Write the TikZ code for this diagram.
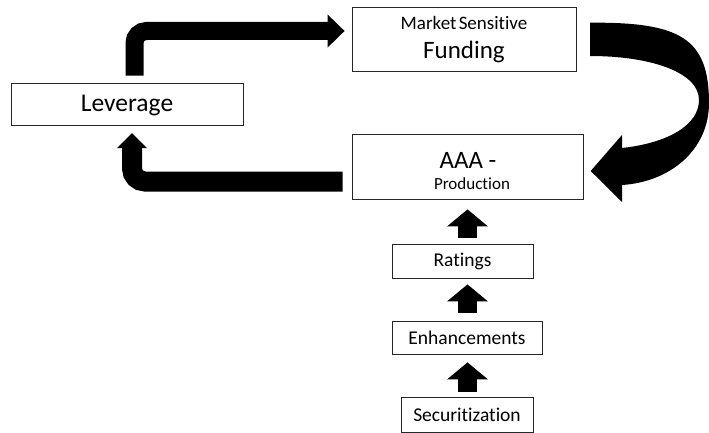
\documentclass[tikz,border=0pt]{standalone}
\usepackage{fontspec}
\setmainfont{Carlito}[Ligatures=NoCommon]
\usetikzlibrary{arrows.meta,calc}
\begin{document}
\begin{tikzpicture}[x=1pt,y=-1pt,
  box/.style={draw=black!85,line width=0.8pt,inner sep=0pt,fill=white},
  lbl/.style={inner sep=0pt,anchor=base},
  uparrow/.style={line width=19pt,-{Triangle[length=17pt 0 0,width=40pt 0 0]}},
  toparrow/.style={line width=18pt,rounded corners=12pt,-{Triangle[length=17pt 0 0,width=32pt 0 0]}},
  botarrow/.style={line width=20pt,rounded corners=13pt,-{Triangle[length=15pt 0 0,width=29pt 0 0]}}]
\useasboundingbox (0,0) rectangle (709,433);

\node[box,minimum width=232pt,minimum height=42.7pt] (lev) at (127,104.3) {};
\node[lbl,font=\fontsize{25.5}{28}\selectfont] (levt) at (127,112) {Leverage};
\node[box,minimum width=224pt,minimum height=64pt] (msf) at (464,39) {};
\node[lbl,font=\fontsize{19}{21}\selectfont] (msft) at (464,30) {Market\hspace{0.12em}Sensitive};
\node[lbl,font=\fontsize{25}{27}\selectfont] (msfb) at (464,58.5) {Funding};
\node[box,minimum width=231pt,minimum height=65pt] (aaa) at (467.5,166.5) {};
\node[lbl,font=\fontsize{25}{28}\selectfont] (aaat) at (468,168) {AAA -};
\node[lbl,font=\fontsize{17}{20}\selectfont] (aaab) at (472,189) {Production};
\node[box,minimum width=141pt,minimum height=34pt,font=\fontsize{19.5}{22}\selectfont] (rat) at (462.5,261) {Ratings};
\node[box,minimum width=150pt,minimum height=33pt,font=\fontsize{19.5}{22}\selectfont] (enh) at (467,337.5) {Enhancements};
\node[box,minimum width=132pt,minimum height=35pt,font=\fontsize{19.5}{22}\selectfont] (sec) at (467,414.5) {Securitization};

% vertical block arrows
\draw[uparrow] ($(aaa.south |- rat.north)+(0,-6)$) -- ($(aaa.south)+(0,10)$);
\draw[uparrow] ($(aaa.south |- enh.north)+(0,-8)$) -- ($(aaa.south |- rat.south)+(0,6)$);
\draw[uparrow] ($(aaa.south |- sec.north)+(0,-5)$) -- ($(aaa.south |- enh.south)+(0,8)$);

% bent arrows
\draw[toparrow] ($(lev.north)+(7.5,-7)$) |- ($(msf.west)+(-7,-8)$);
\draw[botarrow] ($(aaa.west)+(-9,15)$) -| ($(lev.south)+(5,7)$);

% curved arrow from Funding to AAA-Production
\fill (590,22.7) .. controls (680,22) and (709,38) .. (709,103)
  .. controls (709,150) and (670,182) .. (622,185)
  -- (622,202) -- (590.7,171) -- (622,135) -- (622,148)
  .. controls (668,143) and (699,125) .. (699,100)
  .. controls (699,72) and (650,56) .. (590,56) -- cycle;
\end{tikzpicture}
\end{document}
